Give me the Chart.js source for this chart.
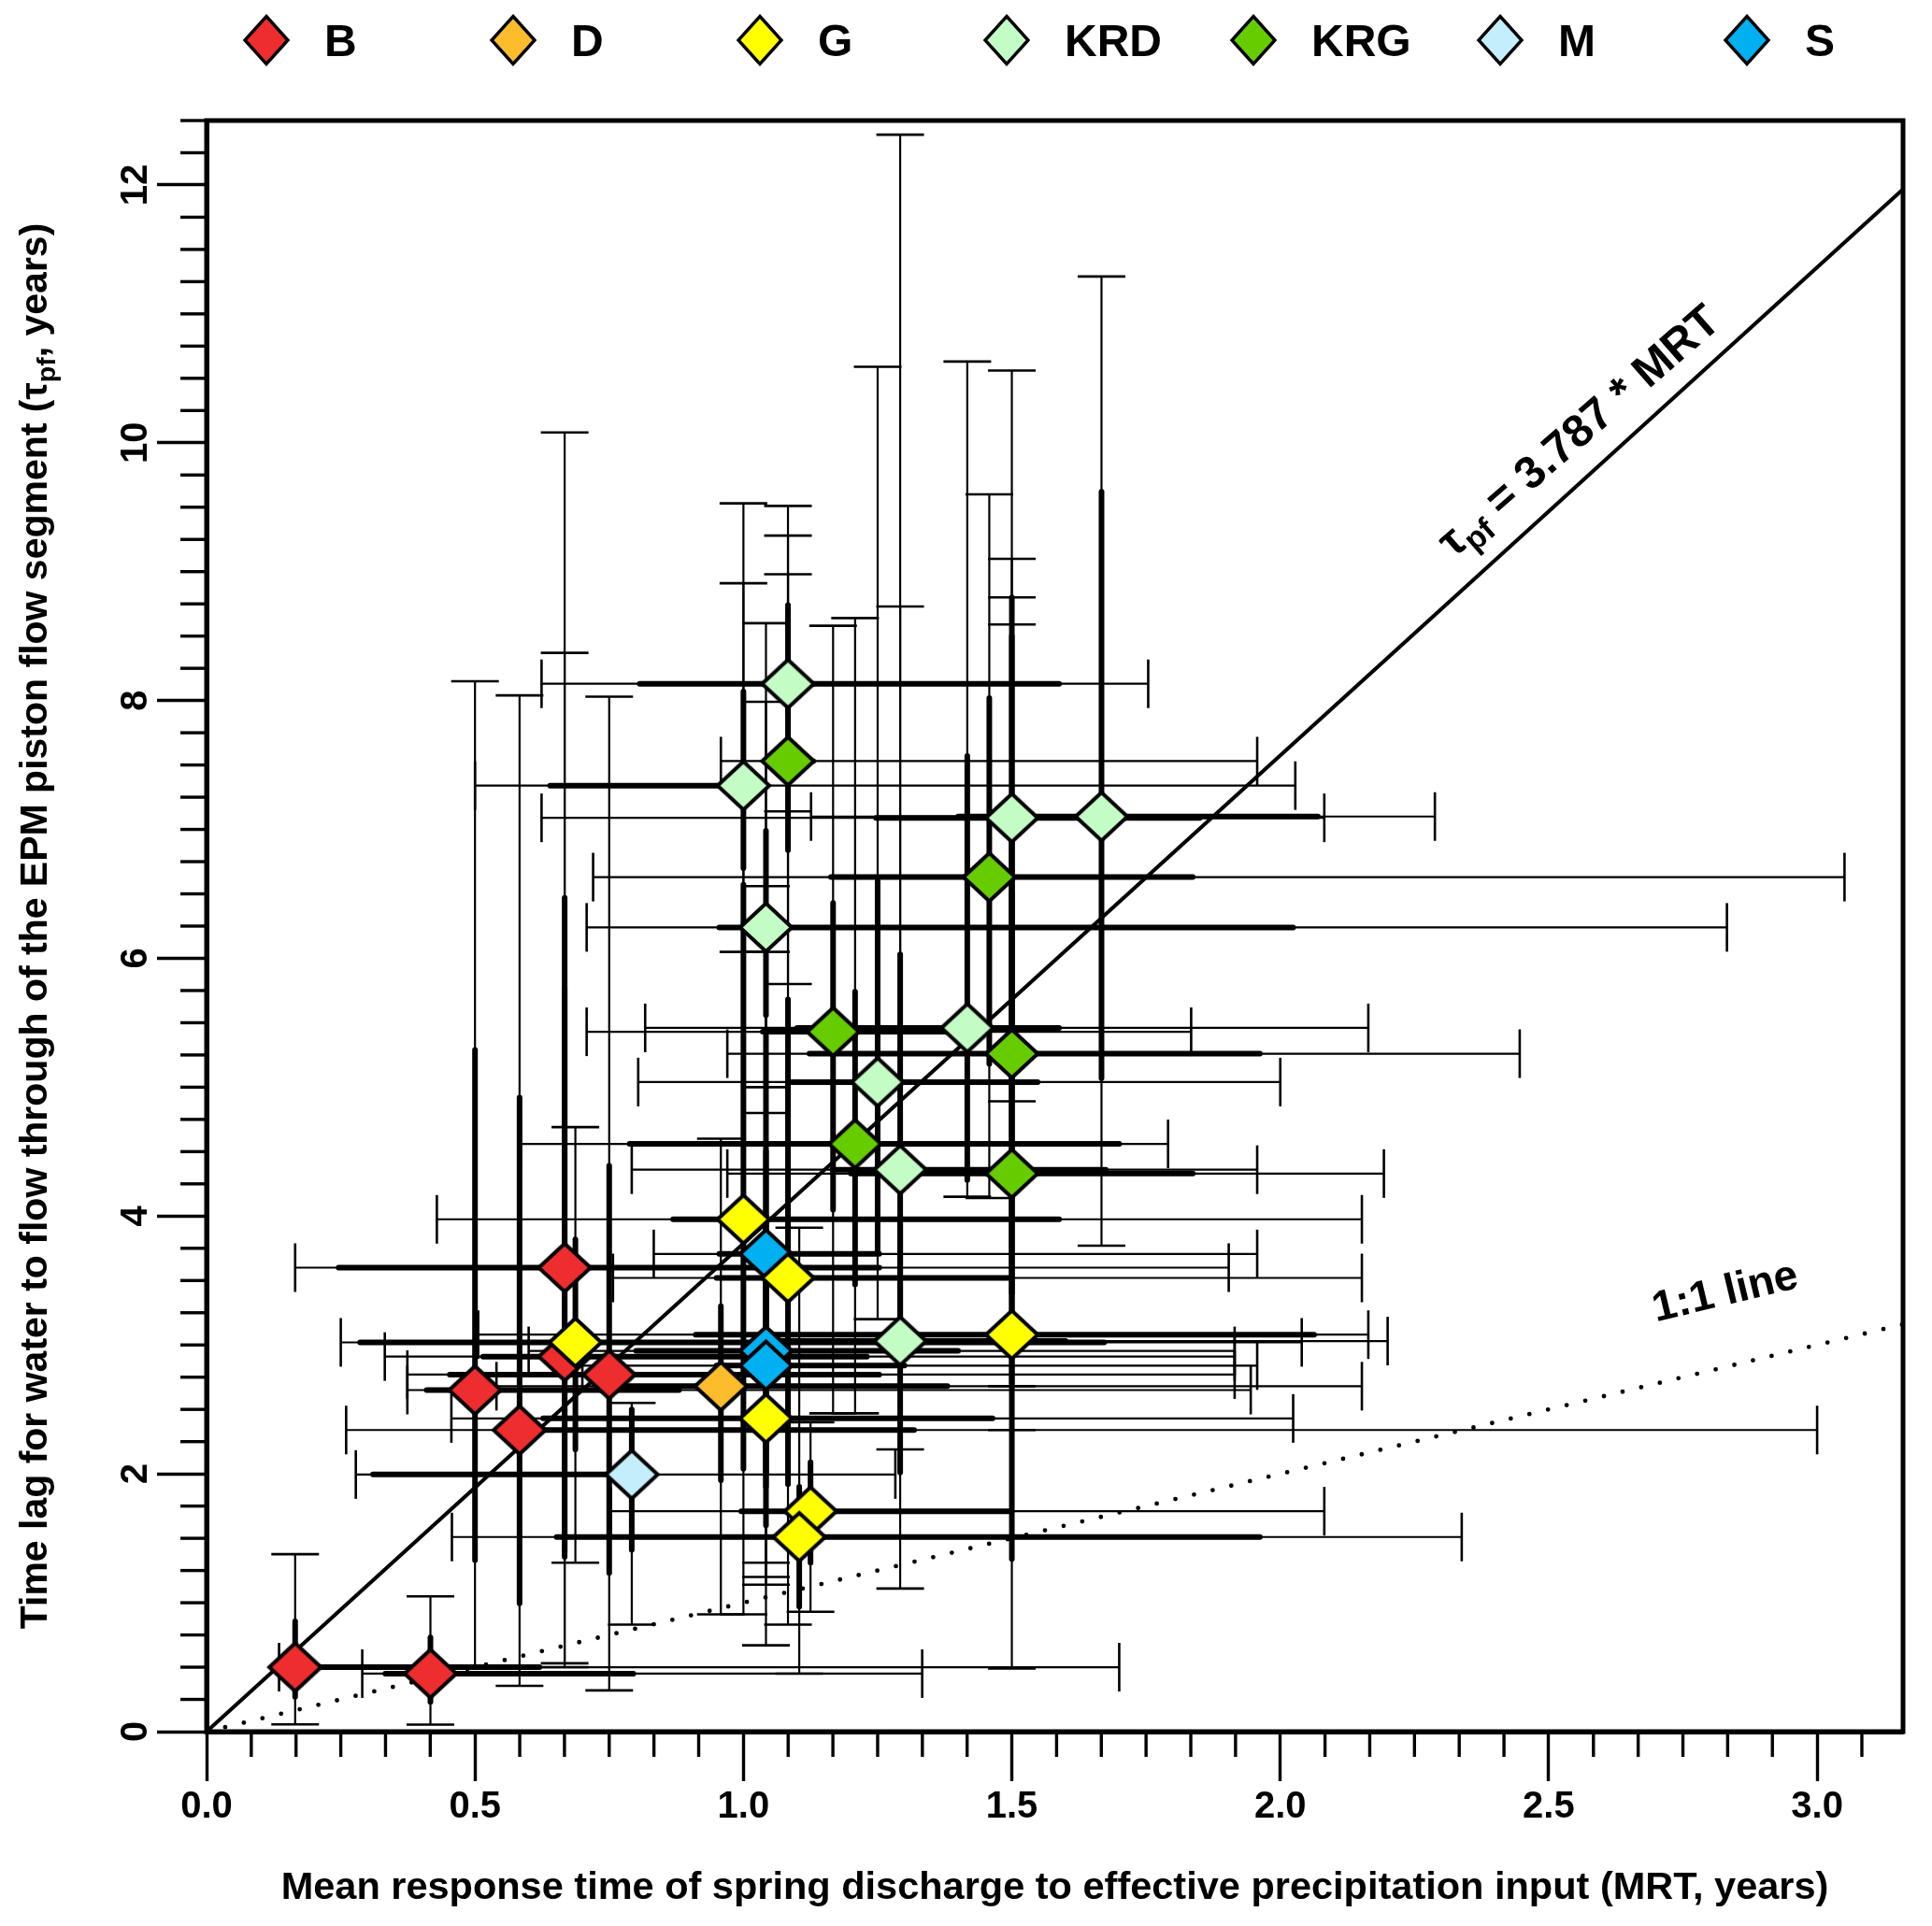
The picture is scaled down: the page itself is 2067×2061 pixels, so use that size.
<!DOCTYPE html>
<html>
<head>
<meta charset="utf-8">
<script src="https://cdn.jsdelivr.net/npm/chart.js@4.4.1/dist/chart.umd.min.js"></script>
<style>
  html, body { margin: 0; padding: 0; background: #ffffff; }
  #wrap { position: relative; width: 2067px; height: 2061px; }
  #chart { position: absolute; left: 0; top: 0; }
  #legend { position: absolute; left: 0; top: 0; width: 2067px; height: 100px;
            font-family: 'Liberation Sans', Arial, Helvetica, sans-serif; font-weight: bold; font-size: 48px; }
  .lg-sym { position: absolute; top: 15px; width: 52px; height: 56px; }
  .lg-txt { position: absolute; top: 20px; line-height: 48px; color: #000; white-space: nowrap; }
</style>
</head>
<body>
<div id="wrap">
  <canvas id="chart" width="2067" height="2061"></canvas>
  <div id="legend"></div>
</div>
<script>
// ---------------- DATA ----------------
const groupNames  = ['B', 'D', 'G', 'KRD', 'KRG', 'M', 'S'];
const groupColors = ['#EE2D2F', '#FCBC2C', '#FFFF00', '#C4FCC6', '#66CC00', '#C4EEFC', '#00B0F0'];

// one entry per spring / sample
const pointGroup = ['B','B','B','B','B','B','B',
                    'D',
                    'G','G','G','G','G','G','G',
                    'KRD','KRD','KRD','KRD','KRD','KRD','KRD','KRD','KRD',
                    'KRG','KRG','KRG','KRG','KRG','KRG',
                    'M',
                    'S','S','S'];
// MRT (years)
const mrt = [0.165, 0.417, 0.500, 0.583, 0.667, 0.667, 0.750,
             0.958,
             0.687, 1.000, 1.083, 1.042, 1.500, 1.125, 1.104,
             1.083, 1.000, 1.500, 1.667, 1.042, 1.417, 1.250, 1.292, 1.292,
             1.083, 1.458, 1.167, 1.500, 1.208, 1.500,
             0.792,
             1.042, 1.042, 1.042];
// tau_pf (years)
const tau = [0.50, 0.45, 2.65, 2.34, 3.60, 2.91, 2.77,
             2.68,
             3.02, 3.975, 3.52, 2.43, 3.08, 1.71, 1.51,
             8.13, 7.34, 7.09, 7.10, 6.24, 5.46, 5.04, 4.36, 3.03,
             7.53, 6.63, 5.43, 5.26, 4.56, 4.33,
             1.995,
             3.706, 2.954, 2.84];
// MRT inner (thick) interval
const mrtInnerLo = [0.14, 0.333, 0.41, 0.56, 0.246, 0.515, 0.453,
                    0.75,
                    0.286, 0.869, 0.95, 0.627, 0.911, 0.996, 0.652,
                    0.807, 0.64, 1.247, 1.40, 0.955, 1.10, 1.09, 1.166, 1.05,
                    1.04, 1.163, 1.036, 1.123, 0.788, 1.20,
                    0.31,
                    0.955, 0.80, 0.95];
const mrtInnerHi = [0.62, 0.795, 0.88, 1.318, 1.253, 1.23, 1.253,
                    1.38,
                    1.672, 1.588, 1.498, 1.464, 2.063, 1.495, 1.962,
                    1.588, 1.03, 1.85, 2.07, 2.024, 1.588, 1.548, 1.675, 1.60,
                    1.13, 1.837, 1.45, 1.962, 1.70, 1.837,
                    0.80,
                    1.253, 1.40, 1.30];
// MRT outer (thin, capped) interval
const mrtOuterLo = [0.135, 0.29, 0.374, 0.26, 0.165, 0.332, 0.374,
                    0.54,
                    0.25, 0.429, 0.757, 0.456, 0.506, 0.753, 0.457,
                    0.624, 0.50, 0.624, 1.126, 0.708, 0.817, 0.804, 0.792, 0.75,
                    0.958, 0.72, 0.708, 0.97, 0.585, 0.97,
                    0.278,
                    0.833, 0.60, 0.70];
const mrtOuterHi = [1.70, 1.333, 1.945, 3.00, 1.904, 1.915, 1.915,
                    2.152,
                    2.04, 2.152, 2.152, 2.024, 2.164, 2.082, 2.338,
                    1.754, 2.028, 2.082, 2.288, 2.832, 2.164, 2.00, 1.957, 2.20,
                    1.957, 3.051, 1.834, 2.446, 1.791, 2.193,
                    1.283,
                    1.957, 1.915, 1.957];
// tau inner (thick) interval
const tauInnerLo = [0.27, 0.23, 1.33, 0.995, 1.355, 1.40, 1.23,
                    1.95,
                    2.19, 2.04, 1.92, 1.60, 1.34, 1.31, 0.97,
                    7.90, 6.70, 5.00, 5.07, 5.56, 4.28, 3.73, 3.20, 2.01,
                    6.84, 5.18, 4.05, 3.40, 3.47, 2.70,
                    1.41,
                    2.20, 2.00, 1.90];
const tauInnerHi = [0.855, 0.73, 5.29, 4.92, 6.47, 5.77, 4.39,
                    3.30,
                    3.82, 6.57, 5.68, 3.60, 6.50, 2.09, 1.90,
                    8.74, 8.07, 8.50, 9.62, 6.99, 7.57, 6.60, 6.03, 4.00,
                    7.93, 8.02, 6.43, 8.80, 5.74, 6.90,
                    2.50,
                    5.40, 4.50, 4.00];
// tau outer (thin, capped) interval
const tauOuterLo = [0.056, 0.054, 0.50, 0.355, 0.53, 0.50, 0.32,
                    0.91,
                    1.31, 0.91, 0.83, 0.67, 0.49, 0.93, 0.45,
                    7.14, 6.05, 4.89, 3.77, 4.80, 4.15, 3.20, 2.19, 1.11,
                    5.80, 4.14, 2.47, 2.68, 2.47, 2.34,
                    0.83,
                    1.31, 1.14, 1.20];
const tauOuterHi = [1.377, 1.05, 8.15, 8.04, 10.08, 8.37, 8.03,
                    4.60,
                    4.69, 8.91, 8.98, 6.05, 8.59, 2.40, 3.91,
                    9.51, 9.53, 10.56, 11.29, 8.60, 10.63, 10.59, 12.39, 8.73,
                    9.28, 9.60, 8.58, 9.10, 8.64, 8.80,
                    2.55,
                    7.99, 6.56, 5.00];

const xMajorTicks = [0, 0.5, 1.0, 1.5, 2.0, 2.5, 3.0];
const xTickLabels = ['0.0', '0.5', '1.0', '1.5', '2.0', '2.5', '3.0'];
const yMajorTicks = [0, 2, 4, 6, 8, 10, 12];
const yTickLabels = ['0', '2', '4', '6', '8', '10', '12'];
const xMinorStep = 1 / 12;   // monthly minor ticks
const yMinorStep = 0.25;
const xMax = 3.16, yMax = 12.5;
const epmSlope = 3.787;      // tau_pf = 3.787 * MRT

// ---------------- STYLE ----------------
const FONT = "'Liberation Sans', Arial, Helvetica, sans-serif";
const drawOrder = { G: 1, S: 2, KRD: 3, KRG: 4, D: 5, B: 6, M: 7 };

// diamond marker image (slightly wider than tall, as in the original)
function diamondMarker(fill) {
  const hw = 30.5, hh = 28.5, pad = 3;
  const c = document.createElement('canvas');
  c.width = Math.ceil(2 * hw + 2 * pad); c.height = Math.ceil(2 * hh + 2 * pad);
  const g = c.getContext('2d');
  const cx = c.width / 2, cy = c.height / 2;
  const bw = 4;
  g.beginPath();
  g.moveTo(cx - hw + bw * 0.7, cy); g.lineTo(cx, cy - hh + bw * 0.7);
  g.lineTo(cx + hw - bw * 0.7, cy); g.lineTo(cx, cy + hh - bw * 0.7); g.closePath();
  g.fillStyle = fill; g.fill();
  g.lineWidth = bw; g.strokeStyle = '#000'; g.lineJoin = 'miter'; g.stroke();
  return c;
}

// ---------------- LEGEND (HTML) ----------------
(function buildLegend() {
  const lg = document.getElementById('legend');
  groupNames.forEach((name, i) => {
    const cx = 285 + i * 264;
    const svgNS = 'http://www.w3.org/2000/svg';
    const svg = document.createElementNS(svgNS, 'svg');
    svg.setAttribute('class', 'lg-sym');
    svg.setAttribute('width', '52'); svg.setAttribute('height', '56');
    svg.style.left = (cx - 26) + 'px';
    const poly = document.createElementNS(svgNS, 'polygon');
    poly.setAttribute('points', '26,2.5 49,28 26,53.5 3,28');
    poly.setAttribute('fill', groupColors[i]);
    poly.setAttribute('stroke', '#000');
    poly.setAttribute('stroke-width', '3.4');
    poly.setAttribute('stroke-linejoin', 'miter');
    svg.appendChild(poly);
    lg.appendChild(svg);
    const t = document.createElement('span');
    t.className = 'lg-txt';
    t.style.left = (cx + 62) + 'px';
    t.textContent = name;
    lg.appendChild(t);
  });
})();

// ---------------- PLUGINS ----------------
function seg(ctx, x1, y1, x2, y2) { ctx.beginPath(); ctx.moveTo(x1, y1); ctx.lineTo(x2, y2); ctx.stroke(); }

const errorBars = {
  id: 'errorBars',
  beforeDatasetsDraw(chart) {
    const { ctx, scales: { x, y } } = chart;
    ctx.save();
    ctx.strokeStyle = '#000';
    const capH = 26, capW = 25.5;
    ctx.lineCap = 'butt';
    for (let i = 0; i < mrt.length; i++) {
      const px = x.getPixelForValue(mrt[i]), py = y.getPixelForValue(tau[i]);
      const xl = x.getPixelForValue(mrtOuterLo[i]), xh = x.getPixelForValue(mrtOuterHi[i]);
      const yl = y.getPixelForValue(tauOuterLo[i]), yh = y.getPixelForValue(tauOuterHi[i]);
      ctx.lineWidth = 2.2;
      seg(ctx, xl, py, xh, py);
      seg(ctx, px, yl, px, yh);
      ctx.lineWidth = 2.6;
      seg(ctx, xl, py - capH, xl, py + capH);
      seg(ctx, xh, py - capH, xh, py + capH);
      seg(ctx, px - capW, yl, px + capW, yl);
      seg(ctx, px - capW, yh, px + capW, yh);
    }
    ctx.lineCap = 'round';
    ctx.lineWidth = 6;
    for (let i = 0; i < mrt.length; i++) {
      const px = x.getPixelForValue(mrt[i]), py = y.getPixelForValue(tau[i]);
      seg(ctx, x.getPixelForValue(mrtInnerLo[i]), py, x.getPixelForValue(mrtInnerHi[i]), py);
      seg(ctx, px, y.getPixelForValue(tauInnerLo[i]), px, y.getPixelForValue(tauInnerHi[i]));
    }
    ctx.restore();
  }
};

function drawSubText(ctx, pieces, mainPx, subPx, subShift) {
  let w = 0;
  const widths = pieces.map(p => {
    ctx.font = 'bold ' + (p[1] ? subPx : mainPx) + 'px ' + FONT;
    const m = ctx.measureText(p[0]).width; w += m; return m;
  });
  return { total: w, draw(x0) {
    let xx = x0;
    pieces.forEach((p, k) => {
      ctx.font = 'bold ' + (p[1] ? subPx : mainPx) + 'px ' + FONT;
      ctx.fillText(p[0], xx, p[1] ? subShift : 0);
      xx += widths[k];
    });
  }};
}

const decorations = {
  id: 'decorations',
  afterDraw(chart) {
    const { ctx, chartArea: a, scales: { x, y } } = chart;
    ctx.save();
    ctx.strokeStyle = '#000';
    ctx.fillStyle = '#000';
    ctx.lineWidth = 3.4;
    ctx.lineCap = 'butt';
    for (let k = 1; k * xMinorStep <= xMax + 1e-9; k++) {
      if (k % 6 === 0) continue;
      const px = x.getPixelForValue(k * xMinorStep);
      seg(ctx, px, a.bottom, px, a.bottom + 27);
    }
    for (let k = 1; k * yMinorStep <= yMax + 1e-9; k++) {
      if (k % 8 === 0) continue;
      const py = y.getPixelForValue(k * yMinorStep);
      seg(ctx, a.left, py, a.left - 28, py);
    }
    ctx.lineWidth = 5;
    ctx.strokeRect(a.left, a.top, a.right - a.left, a.bottom - a.top);

    ctx.textBaseline = 'alphabetic';
    ctx.textAlign = 'left';
    const yt = drawSubText(ctx, [['Time lag for water to flow through of the EPM piston flow segment (\u03C4', false], ['pf', true], [', years)', false]], 41, 28.5, 9);
    ctx.save();
    ctx.translate(50, (a.top + a.bottom) / 2);
    ctx.rotate(-Math.PI / 2);
    yt.draw(-yt.total / 2);
    ctx.restore();

    const ang1 = 41 * Math.PI / 180;
    const lt = drawSubText(ctx, [['\u03C4', false], ['pf', true], [' = 3.787 * MRT', false]], 48.5, 34, 10);
    ctx.save();
    ctx.translate(x.getPixelForValue(2.323), y.getPixelForValue(9.10));
    ctx.rotate(-ang1);
    lt.draw(0);
    ctx.restore();

    const ang2 = Math.atan2(y.getPixelForValue(0) - y.getPixelForValue(1), x.getPixelForValue(1) - x.getPixelForValue(0));
    ctx.save();
    ctx.translate(x.getPixelForValue(2.70), y.getPixelForValue(3.18));
    ctx.rotate(-ang2);
    ctx.font = 'bold 46px ' + FONT;
    ctx.fillText('1:1 line', 0, 0);
    ctx.restore();
    ctx.restore();
  }
};

// ---------------- DATASETS ----------------
const datasets = [];
datasets.push({
  label: 'tau_pf = 3.787 * MRT',
  data: [{ x: 0, y: 0 }, { x: xMax, y: epmSlope * xMax }],
  showLine: true, borderColor: '#000', borderWidth: 4, pointRadius: 0, order: 20
});
datasets.push({
  label: '1:1 line',
  data: [{ x: 0, y: 0 }, { x: xMax, y: xMax }],
  showLine: true, borderColor: '#000', borderWidth: 4.8, borderDash: [0, 20.5],
  borderCapStyle: 'round', pointRadius: 0, order: 21
});
groupNames.forEach((g, gi) => {
  const pts = [];
  for (let i = 0; i < mrt.length; i++) if (pointGroup[i] === g) pts.push({ x: mrt[i], y: tau[i] });
  datasets.push({
    label: g, data: pts,
    pointStyle: diamondMarker(groupColors[gi]), pointRadius: 30,
    pointBackgroundColor: groupColors[gi], pointBorderColor: '#000',
    backgroundColor: groupColors[gi], borderColor: '#000',
    showLine: false, order: drawOrder[g]
  });
});

Chart.defaults.font.family = FONT;
Chart.defaults.font.weight = 'bold';
Chart.defaults.color = '#000';

new Chart(document.getElementById('chart'), {
  type: 'scatter',
  data: { datasets },
  plugins: [errorBars, decorations],
  options: {
    responsive: false,
    animation: false,
    events: [],
    layout: { padding: { top: 129, right: 26, bottom: 0, left: 0 } },
    plugins: { legend: { display: false }, tooltip: { enabled: false } },
    scales: {
      x: {
        type: 'linear', position: 'bottom', min: 0, max: xMax,
        afterBuildTicks: s => { s.ticks = xMajorTicks.map(v => ({ value: v })); },
        afterFit: s => { s.height = 208; },
        ticks: { autoSkip: false, includeBounds: false, padding: 4, color: '#000',
                 font: { size: 40, weight: 'bold', family: FONT },
                 callback: (v, i) => xTickLabels[i] },
        grid: { drawOnChartArea: false, drawTicks: true, tickLength: 53, tickWidth: 3.4, tickColor: '#000', color: '#000' },
        border: { display: true, width: 5, color: '#000' },
        title: { display: true, text: 'Mean response time of spring discharge to effective precipitation input (MRT, years)',
                 color: '#000', font: { size: 41.5, weight: 'bold', family: FONT }, padding: { top: 0, bottom: 16 } }
      },
      y: {
        type: 'linear', position: 'left', min: 0, max: yMax,
        afterBuildTicks: s => { s.ticks = yMajorTicks.map(v => ({ value: v })); },
        afterFit: s => { s.width = 221; },
        ticks: { autoSkip: false, includeBounds: false, minRotation: 90, maxRotation: 90,
                 crossAlign: 'center', padding: 0, color: '#000',
                 font: { size: 40, weight: 'bold', family: FONT },
                 callback: (v, i) => yTickLabels[i] },
        grid: { drawOnChartArea: false, drawTicks: true, tickLength: 53, tickWidth: 3.4, tickColor: '#000', color: '#000' },
        border: { display: true, width: 5, color: '#000' },
        title: { display: false }
      }
    }
  }
});
</script>
</body>
</html>
